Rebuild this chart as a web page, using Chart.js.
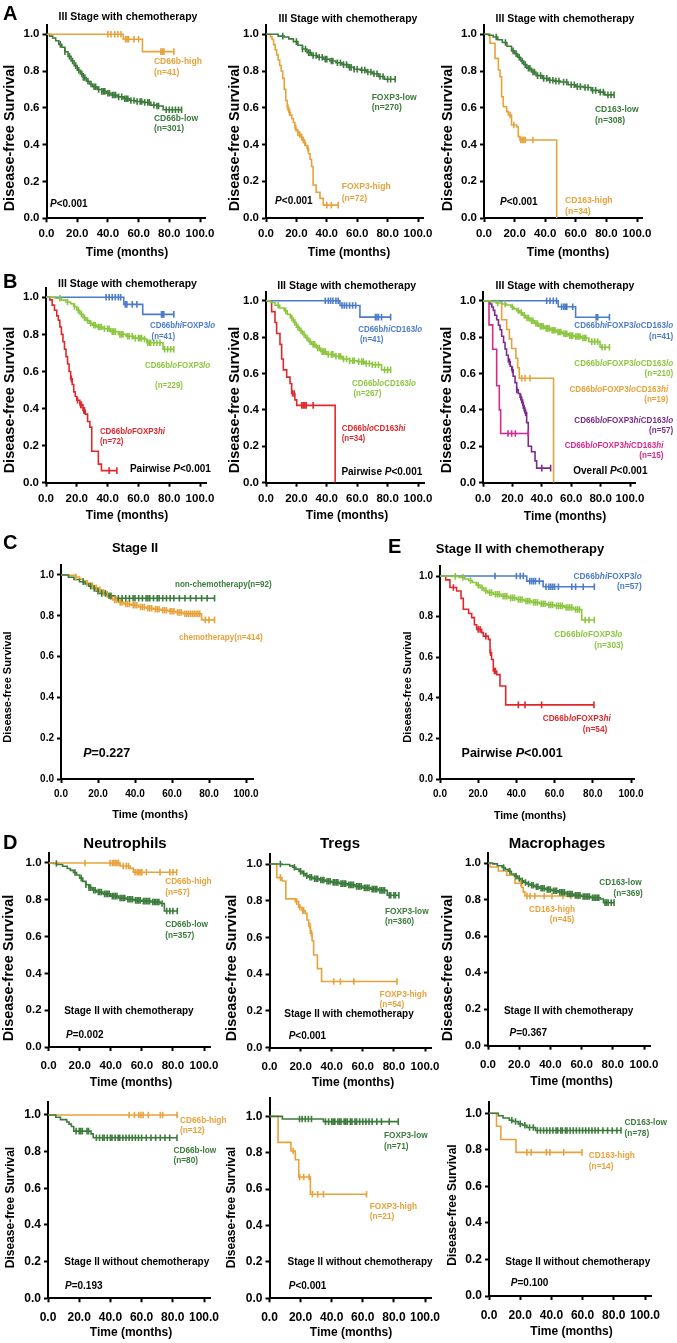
<!DOCTYPE html>
<html>
<head>
<meta charset="utf-8">
<title>Disease-free survival</title>
<script src="https://cdn.jsdelivr.net/npm/chart.js@4.4.1/dist/chart.umd.min.js"></script>
<style>
  body { margin: 0; background: #fff; }
  #page { position: relative; width: 677px; height: 1343px; overflow: hidden; background: #fff; }
  #page canvas { position: absolute; }
</style>
</head>
<body>
<div id="page"></div>
<script>
const ORANGE = '#E8A23A', DKGREEN = '#3B7B3B', LTGREEN = '#8CC63F', BLUE = '#4C7CC9',
      RED = '#E0282C', PURPLE = '#7B2B8B', MAGENTA = '#D8288C', BLACK = '#000';
const FAM = "'Liberation Sans', Arial, Helvetica, sans-serif";

// tick labels
const xTicks = [0, 20, 40, 60, 80, 100];
const yTicks = [0, 0.2, 0.4, 0.6, 0.8, 1.0];

// ---- A: III stage with chemotherapy ----
// t = event times (months), s = survival after the event, c = censored times
const a1HiT = [50, 62.5];
const a1HiS = [0.973, 0.906];
const a1HiC = [40, 42, 44.5, 46.5, 48.5, 51.5, 52.5, 53.5, 57, 60, 74.5, 75.5, 76.5, 83];
const a1LoT = [2, 4, 6, 8, 10, 12, 14, 16, 18, 20, 22, 24, 26, 28, 30, 33, 36, 39, 42, 46, 50, 54, 58, 63, 68, 72, 76];
const a1LoS = [0.99, 0.98, 0.965, 0.945, 0.93, 0.905, 0.88, 0.855, 0.83, 0.805, 0.785, 0.765, 0.745, 0.73, 0.715, 0.7, 0.69, 0.68, 0.67, 0.66, 0.65, 0.64, 0.635, 0.63, 0.615, 0.61, 0.59];
const a1LoC = [9, 12, 15, 17, 19, 21, 23, 24, 25, 27, 29, 31, 32, 34, 36, 37, 38, 40, 41, 43, 44, 45, 47, 49, 51, 52, 53, 55, 57, 59, 61, 62, 64, 66, 67, 70, 72, 73, 78, 80, 82, 84, 86, 88];

const a2LoT = [8, 12, 15, 18, 21, 24, 27, 30, 34, 38, 42, 46, 50, 54, 58, 62, 66, 70, 74, 78];
const a2LoS = [0.99, 0.985, 0.975, 0.96, 0.94, 0.92, 0.9, 0.885, 0.875, 0.865, 0.855, 0.845, 0.835, 0.82, 0.81, 0.805, 0.795, 0.785, 0.77, 0.755];
const a2LoC = [11, 20, 24, 26, 28, 29, 31, 33, 35, 37, 39, 40, 43, 44, 47, 49, 51, 53, 55, 56, 58, 60, 63, 65, 67, 69, 71, 73, 75, 77, 80, 82, 85];
const a2HiT = [3, 4, 5, 6, 7, 8, 9, 10, 11, 12, 13, 14, 15, 16, 17, 18, 19, 20, 21, 22, 23, 24, 25, 26, 27, 28, 29, 30, 31, 33, 35.5, 37.7];
const a2HiS = [0.986, 0.972, 0.944, 0.916, 0.888, 0.86, 0.83, 0.8, 0.76, 0.7, 0.64, 0.6, 0.575, 0.56, 0.54, 0.52, 0.49, 0.475, 0.465, 0.455, 0.44, 0.425, 0.41, 0.395, 0.38, 0.35, 0.32, 0.28, 0.18, 0.14, 0.107, 0.07];
const a2HiC = [14.5, 15.5, 19.5, 21, 22, 23.5, 24.5, 25.5, 27.5, 40, 43, 47.5];

const a3LoT = [3, 6, 9, 12, 15, 18, 20, 22, 24, 26, 28, 31, 34, 38, 42, 46, 50, 55, 60, 65, 70, 75, 79];
const a3LoS = [0.995, 0.985, 0.97, 0.955, 0.935, 0.91, 0.895, 0.875, 0.855, 0.835, 0.815, 0.795, 0.775, 0.76, 0.75, 0.745, 0.74, 0.725, 0.715, 0.71, 0.695, 0.685, 0.67];
const a3LoC = [8, 14, 19, 21, 23, 25, 27, 29, 30, 32, 33, 35, 37, 39, 41, 43, 45, 47, 49, 52, 54, 57, 59, 61, 63, 66, 68, 71, 73, 76, 78, 81, 83, 85];
const a3HiT = [3.9, 7.2, 9.4, 10.5, 11.5, 12.6, 14.8, 15.9, 18, 21.4, 22.4, 23.5, 47.5];
const a3HiS = [0.951, 0.869, 0.806, 0.769, 0.66, 0.606, 0.579, 0.561, 0.506, 0.497, 0.443, 0.425, 0];
const a3HiC = [17, 19.5, 24, 25, 26, 27, 32];

// ---- B: combined groups ----
const b1HiLoT = [50.5, 62.8];
const b1HiLoS = [0.962, 0.908];
const b1HiLoC = [39, 41, 43, 45, 47, 48.5, 51.5, 52.5, 56, 59, 75, 75.5, 76.5, 83];
const b1LoLoT = [6, 10, 13, 16, 18, 20, 22, 24, 26, 28, 30, 33, 37, 42, 47, 52, 57, 63, 65.5, 76];
const b1LoLoS = [0.995, 0.985, 0.975, 0.965, 0.95, 0.93, 0.91, 0.89, 0.875, 0.86, 0.85, 0.84, 0.83, 0.815, 0.8, 0.79, 0.78, 0.775, 0.755, 0.72];
const b1LoLoC = [9, 14, 18.5, 21, 23, 25, 27, 29, 31, 32, 34, 35, 36, 38, 40, 41, 43, 44, 45, 48, 49, 50, 53, 54, 56, 58, 60, 61, 62, 64, 66, 67, 68, 70, 72, 74, 77, 79, 81, 83];
const b1LoHiT = [2.5, 4, 5.5, 7, 8, 9, 10, 11, 12, 13, 14, 15, 16, 17, 18, 19, 20, 22, 24, 25.5, 27, 28.5, 29.7, 34, 36];
const b1LoHiS = [0.986, 0.958, 0.93, 0.9, 0.876, 0.84, 0.8, 0.76, 0.72, 0.68, 0.64, 0.6, 0.56, 0.53, 0.49, 0.465, 0.445, 0.42, 0.39, 0.37, 0.33, 0.3, 0.17, 0.1, 0.065];
const b1LoHiC = [16.5, 20.5, 22.5, 23, 24.5, 25, 41, 46];

const b2HiLoT = [48.7, 61.8];
const b2HiLoS = [0.974, 0.91];
const b2HiLoC = [39, 41, 42.5, 44, 46, 47.5, 50, 51.5, 53, 55, 57, 59, 72, 73, 74, 76, 82];
const b2LoLoT = [3, 6, 9, 12, 14, 16, 18, 20, 22, 24, 26, 28, 30, 33, 36, 40, 45, 50, 55, 60, 65, 70, 76];
const b2LoLoS = [0.99, 0.975, 0.96, 0.945, 0.925, 0.905, 0.88, 0.855, 0.835, 0.815, 0.795, 0.775, 0.76, 0.74, 0.72, 0.705, 0.695, 0.68, 0.67, 0.665, 0.655, 0.648, 0.62];
const b2LoLoC = [8, 13, 17, 19, 21, 23, 25, 27, 29, 31, 32, 34, 35, 37, 38, 39, 41, 43, 44, 46, 48, 49, 51, 53, 55, 57, 58, 61, 63, 64, 66, 68, 70, 72, 74, 78, 80, 82];
const b2LoHiT = [3.7, 5.9, 7, 9.2, 10.3, 11.4, 13.6, 15.8, 16.9, 19, 20.2, 45.5];
const b2LoHiS = [0.94, 0.88, 0.82, 0.76, 0.68, 0.62, 0.58, 0.545, 0.49, 0.455, 0.425, 0];
const b2LoHiC = [17.5, 18.5, 23.5, 24.5, 25.5, 26.5, 31];

const b3HLLT = [51.2, 63];
const b3HLLS = [0.967, 0.909];
const b3HLLC = [43.3, 45.6, 47.8, 50, 53.5, 55, 56, 57, 61, 77, 78, 86];
const b3LLLT = [5, 9, 13, 16, 19, 21, 23, 25, 27, 29, 32, 35, 38, 42, 46, 50, 54, 58, 62, 67, 72, 79.6];
const b3LLLS = [0.995, 0.987, 0.982, 0.976, 0.965, 0.955, 0.945, 0.935, 0.92, 0.905, 0.89, 0.875, 0.86, 0.848, 0.838, 0.828, 0.818, 0.808, 0.803, 0.795, 0.775, 0.744];
const b3LLLC = [10, 15, 20, 24, 26, 28, 30, 31, 33, 34, 36, 37, 39, 40, 41, 43, 44, 45, 47, 48, 49, 51, 52, 53, 55, 56, 57, 59, 60, 61, 63, 64, 65, 66, 68, 69, 70, 74, 76, 78, 81, 83, 86];
const b3LLHT = [12.7, 16.1, 17.9, 19.5, 22.4, 23.6, 24.7, 48];
const b3LLHS = [0.895, 0.842, 0.79, 0.737, 0.684, 0.632, 0.574, 0];
const b3LLHC = [26.3, 28.6, 32];
const b3LHLT = [4.8, 6, 7, 8, 9.3, 10.5, 11.6, 12.7, 14, 15, 16, 17.2, 18.5, 19.5, 20.5, 21.8, 22.9, 24, 25.2, 26.3, 27.4, 28.5, 29.7, 30.8, 33, 35.4, 36.5];
const b3LHLS = [0.982, 0.965, 0.947, 0.92, 0.895, 0.865, 0.84, 0.805, 0.77, 0.735, 0.7, 0.665, 0.64, 0.62, 0.585, 0.55, 0.51, 0.49, 0.47, 0.44, 0.41, 0.385, 0.33, 0.2, 0.17, 0.12, 0.08];
const b3LHLC = [18, 20, 23, 25.7, 27, 28, 29, 40, 46];
const b3LHHT = [4.1, 6.6, 9.3, 11.1, 12];
const b3LHHS = [0.867, 0.733, 0.533, 0.4, 0.27];
const b3LHHC = [17, 19.5, 22, 30.8];

// ---- C: stage II, chemotherapy vs none ----
const cNonT = [4, 7, 10, 13, 15, 17, 19, 21, 25, 29.2];
const cNonS = [0.989, 0.978, 0.967, 0.956, 0.945, 0.934, 0.92, 0.91, 0.898, 0.886];
const cNonC = [12, 16, 18, 20, 22, 24, 26, 27, 31, 33, 35, 37, 39, 40, 42, 44, 46, 47, 48, 50, 52, 53, 55, 57, 59, 61, 64, 67, 70, 73, 76, 79, 83];
const cChemoT = [4, 8, 10, 12, 14, 16, 18, 20, 22, 24, 26, 28, 31, 34, 38, 42, 46, 50, 54, 58, 62, 66, 76];
const cChemoS = [0.998, 0.99, 0.98, 0.97, 0.96, 0.948, 0.937, 0.928, 0.915, 0.905, 0.892, 0.878, 0.866, 0.858, 0.852, 0.843, 0.837, 0.832, 0.827, 0.822, 0.817, 0.81, 0.78];
const cChemoC = [8, 14, 17, 19, 21, 23, 25, 27, 29, 30, 32, 33, 35, 36, 37, 39, 40, 41, 43, 44, 45, 47, 48, 49, 51, 52, 53, 55, 56, 57, 59, 60, 61, 63, 64, 65, 67, 68, 69, 70, 71, 72, 73, 74, 75, 78, 80, 83];

// ---- E: stage II with chemotherapy, combined ----
const eHiLoT = [45.4, 54];
const eHiLoS = [0.975, 0.947];
const eHiLoC = [28.8, 40, 42, 43.6, 47, 48, 49, 50, 52, 55.5, 57, 58, 59, 60, 62, 69, 71, 75, 80.8];
const eLoLoT = [6, 10, 13, 15, 17, 19, 21, 23, 25, 28, 32, 36, 40, 44, 48, 52, 56, 60, 65, 70, 74.2];
const eLoLoS = [0.998, 0.993, 0.985, 0.978, 0.968, 0.955, 0.942, 0.928, 0.918, 0.91, 0.9, 0.892, 0.884, 0.877, 0.87, 0.863, 0.858, 0.853, 0.845, 0.835, 0.783];
const eLoLoC = [8, 12, 16, 20, 22, 24, 26, 27, 29, 30, 31, 33, 34, 35, 37, 38, 39, 41, 42, 43, 45, 46, 47, 49, 50, 51, 53, 54, 55, 57, 58, 59, 61, 62, 63, 64, 66, 67, 68, 69, 71, 72, 73, 76, 78, 80.8];
const eLoHiT = [3, 5.2, 8.7, 11, 12.2, 15, 16.6, 18, 19.2, 21.8, 22.7, 25.3, 26.2, 27, 27.9, 29.7, 31.4, 34.4];
const eLoHiS = [0.981, 0.943, 0.926, 0.89, 0.836, 0.815, 0.795, 0.76, 0.737, 0.721, 0.704, 0.688, 0.622, 0.589, 0.532, 0.514, 0.458, 0.365];
const eLoHiC = [7, 20, 21, 24, 26.5, 28.5, 29, 41, 44.5, 53.2, 80.6];

// ---- D: stage II by cell type ----
const d1HiT = [46, 52.4, 54.5];
const d1HiS = [0.984, 0.971, 0.95];
const d1HiC = [23.4, 39.5, 41, 42, 43, 44, 45, 48, 50, 51.4, 55.6, 57, 58, 59, 60, 63, 71.7, 78, 80, 82.4];
const d1LoT = [3, 6, 9, 12, 14, 16, 18, 20, 22, 24, 26, 28, 31, 35, 40, 45, 50, 55, 60, 66, 72, 74.5];
const d1LoS = [0.997, 0.992, 0.982, 0.97, 0.96, 0.948, 0.935, 0.918, 0.9, 0.882, 0.866, 0.852, 0.842, 0.832, 0.82, 0.81, 0.803, 0.797, 0.793, 0.788, 0.78, 0.739];
const d1LoC = [5, 17, 21, 24, 26, 27, 29, 30, 32, 33, 34, 36, 37, 38, 39, 41, 42, 43, 44, 46, 47, 48, 49, 51, 52, 53, 54, 56, 57, 58, 59, 61, 62, 63, 64, 65, 67, 68, 69, 70, 71, 73, 76, 78, 80, 82.8];

const d2LoT = [8, 13, 15, 17, 19, 21, 23, 25, 28, 32, 36, 40, 45, 50, 55, 60, 65, 70, 75.7];
const d2LoS = [0.997, 0.99, 0.982, 0.972, 0.96, 0.948, 0.936, 0.928, 0.92, 0.913, 0.906, 0.9, 0.893, 0.886, 0.878, 0.87, 0.863, 0.856, 0.83];
const d2LoC = [7, 16, 20, 22, 24, 26, 27, 29, 30, 31, 33, 34, 35, 37, 38, 39, 41, 42, 43, 44, 46, 47, 48, 49, 51, 52, 53, 54, 56, 57, 58, 59, 61, 62, 63, 64, 66, 67, 68, 69, 71, 72, 73, 74, 77, 78, 80, 81, 83.2];
const d2HiT = [4.7, 8, 10.5, 16.6, 18.7, 20.9, 23, 24.1, 25.2, 26.3, 27.4, 28.4, 30.8, 33.5];
const d2HiS = [0.926, 0.907, 0.81, 0.795, 0.764, 0.745, 0.731, 0.695, 0.662, 0.622, 0.582, 0.504, 0.43, 0.36];
const d2HiC = [7, 17.5, 19.5, 21.5, 22, 26, 27, 41.3, 45.6, 54.2, 82];

const d3LoT = [3, 6, 9, 11, 13, 15, 17, 19, 21, 23, 25, 27, 30, 33, 37, 41, 45, 50, 55, 60, 66, 72, 74];
const d3LoS = [0.995, 0.985, 0.975, 0.965, 0.955, 0.94, 0.928, 0.915, 0.903, 0.893, 0.885, 0.878, 0.87, 0.862, 0.855, 0.848, 0.84, 0.83, 0.823, 0.817, 0.81, 0.803, 0.783];
const d3LoC = [10, 14, 18, 20, 22, 24, 26, 28, 29, 31, 32, 34, 35, 36, 38, 39, 40, 42, 43, 44, 46, 47, 48, 49, 51, 52, 53, 54, 56, 57, 58, 59, 61, 62, 63, 64, 65, 67, 68, 69, 70, 71, 75, 76, 77, 79, 80.8];
const d3HiT = [1.3, 6.6, 12, 17.3, 21.6, 22.6, 23.7];
const d3HiS = [0.978, 0.956, 0.933, 0.889, 0.866, 0.842, 0.819];
const d3HiC = [21, 25, 27, 30, 36, 41, 48, 53, 57.9];

const d4HiT = [];
const d4HiS = [];
const d4HiC = [52, 55.4, 58.2, 59.6, 61, 64.3, 72, 73.5, 82.7];
const d4LoT = [5, 8, 12, 13.5, 15, 16.5, 27.6, 29];
const d4LoS = [0.9875, 0.975, 0.962, 0.95, 0.937, 0.912, 0.897, 0.876];
const d4LoC = [18, 20, 21, 22, 25, 26, 31, 33, 35, 36, 38, 40, 41, 43, 45, 46, 48, 50, 52, 54, 56, 58, 60, 63, 66, 69, 72, 75, 78, 82.7];

const d5LoT = [8.3, 34.7];
const d5LoS = [0.986, 0.971];
const d5LoC = [19.3, 21, 23, 25, 27, 36, 38, 40, 41, 42, 44, 45, 46, 48, 49, 50, 52, 53, 55, 56, 58, 60, 62, 64, 66, 69, 72, 77, 82.8];
const d5HiT = [5.5, 13.8, 16.6, 18.8, 26.3];
const d5HiS = [0.857, 0.81, 0.762, 0.667, 0.572];
const d5HiC = [15.2, 19.4, 22, 25.5, 27.6, 31, 34.7, 62.4];

const d6LoT = [6, 9, 13, 15.5, 18.7, 21.5, 24.3, 29.8];
const d6LoS = [0.987, 0.974, 0.962, 0.955, 0.942, 0.935, 0.922, 0.906];
const d6LoC = [14.6, 17, 20, 23, 26, 28.4, 31, 33, 35, 37, 39, 41, 43, 44, 46, 47, 49, 50, 52, 54, 56, 58, 60, 62, 64, 66, 68, 70, 73, 76, 79, 82, 84.6];
const d6HiT = [4.8, 7.6, 17.3];
const d6HiS = [0.929, 0.857, 0.786];
const d6HiC = [24.3, 27, 36.8, 39, 47.9, 59.6];

const STAGE3 = 'III Stage with chemotherapy';
const S2W = 'Stage II with chemotherapy', S2WO = 'Stage II without chemotherapy';

// panel layout: rect = canvas [left, top, right, bottom]; g = pixel of x=0, x=100, y=1, y=0
const panels = [
  { rect: [0, 0, 230, 262], g: [46.5, 200, 34.3, 218.3], xmax: 103.5, ymax: 1.05,
    f: { tick: 11.5, yt: 14.5, xt: 12, lab: 9, sq: 0.95, padX: 5 },
    letter: ['A', 3, 14], title: [STAGE3, 128, 17.3, 10.5], yt: [10, 138], xt: [127, 252.7],
    curves: [[a1HiT, a1HiS, a1HiC, ORANGE], [a1LoT, a1LoS, a1LoC, DKGREEN]],
    labels: [['CD66b-high', 70, 0.85, ORANGE], ['(n=41)', 70, 0.795, ORANGE],
             ['CD66b-low', 70, 0.545, DKGREEN], ['(n=301)', 70, 0.49, DKGREEN],
             ['*P*<0.001', 2.3, 0.078, BLACK, 'left', 10]] },
  { rect: [222, 0, 450, 262], g: [266, 418, 34.3, 218], xmax: 103.5, ymax: 1.05,
    f: { tick: 11.5, yt: 14.5, xt: 12, lab: 9, sq: 0.95, padX: 5 },
    title: [STAGE3, 348, 19.5, 10.5], yt: [235, 138], xt: [349, 252.7],
    curves: [[a2LoT, a2LoS, a2LoC, DKGREEN], [a2HiT, a2HiS, a2HiC, ORANGE]],
    labels: [['FOXP3-low', 69.5, 0.657, DKGREEN], ['(n=270)', 69.5, 0.603, DKGREEN],
             ['FOXP3-high', 49.8, 0.17, ORANGE], ['(n=72)', 49.8, 0.104, ORANGE],
             ['*P*<0.001', 6, 0.089, BLACK, 'left', 10]] },
  { rect: [440, 0, 677, 262], g: [484, 637, 34.3, 218], xmax: 103.5, ymax: 1.05,
    f: { tick: 11.5, yt: 14.5, xt: 12, lab: 9, sq: 0.95, padX: 5 },
    title: [STAGE3, 565, 19.5, 10.5], yt: [448, 138], xt: [568, 252.7],
    curves: [[a3LoT, a3LoS, a3LoC, DKGREEN], [a3HiT, a3HiS, a3HiC, ORANGE]],
    labels: [['CD163-low', 72.5, 0.588, DKGREEN], ['(n=308)', 72.5, 0.53, DKGREEN],
             ['CD163-high', 53, 0.093, ORANGE], ['(n=34)', 53, 0.035, ORANGE],
             ['*P*<0.001', 10.5, 0.085, BLACK, 'left', 10]] },

  { rect: [0, 266, 230, 525], g: [46, 200, 297.3, 482.7], xmax: 104.5, ymax: 1.05,
    f: { tick: 11.5, yt: 14.5, xt: 12, lab: 9, sq: 0.88, padX: 5 },
    letter: ['B', 3, 282], title: [STAGE3, 127.5, 284, 10.5], yt: [10, 400], xt: [127, 516],
    curves: [[b1LoLoT, b1LoLoS, b1LoLoC, LTGREEN], [b1HiLoT, b1HiLoS, b1HiLoC, BLUE], [b1LoHiT, b1LoHiS, b1LoHiC, RED]],
    labels: [['CD66b*hi*FOXP3*lo*', 67.5, 0.849, BLUE], ['(n=41)', 68.5, 0.789, BLUE],
             ['CD66b*lo*FOXP3*lo*', 64.3, 0.632, LTGREEN], ['(n=229)', 70.8, 0.524, LTGREEN],
             ['CD66b*lo*FOXP3*hi*', 35, 0.276, RED], ['(n=72)', 35, 0.222, RED],
             ['Pairwise *P*<0.001', 54.5, 0.074, BLACK, 'left', 10]] },
  { rect: [222, 266, 450, 525], g: [266, 418, 300.7, 482.7], xmax: 104.5, ymax: 1.05,
    f: { tick: 11.5, yt: 14.5, xt: 12, lab: 9, sq: 0.88, padX: 5 },
    title: [STAGE3, 346.7, 286, 10.5], yt: [235, 400], xt: [347, 516],
    curves: [[b2LoLoT, b2LoLoS, b2LoLoC, LTGREEN], [b2HiLoT, b2HiLoS, b2HiLoC, BLUE], [b2LoHiT, b2LoHiS, b2LoHiC, RED]],
    labels: [['CD66b*hi*CD163*lo*', 60.7, 0.843, BLUE], ['(n=41)', 61.8, 0.784, BLUE],
             ['CD66b*lo*CD163*lo*', 56.6, 0.546, LTGREEN], ['(n=267)', 57.5, 0.491, LTGREEN],
             ['CD66b*lo*CD163*hi*', 49.8, 0.299, RED], ['(n=34)', 49.8, 0.244, RED],
             ['Pairwise *P*<0.001', 49.6, 0.06, BLACK, 'left', 10]] },
  { rect: [440, 266, 677, 525], g: [483, 630, 300.7, 482.7], xmax: 104, ymax: 1.05,
    f: { tick: 11.5, yt: 14.5, xt: 12, lab: 8.5, sq: 0.95, padX: 5 },
    title: [STAGE3, 565, 286, 10.5], yt: [447, 400], xt: [565, 517],
    curves: [[b3LLLT, b3LLLS, b3LLLC, LTGREEN], [b3HLLT, b3HLLS, b3HLLC, BLUE], [b3LLHT, b3LLHS, b3LLHC, ORANGE],
             [b3LHLT, b3LHLS, b3LHLC, PURPLE], [b3LHHT, b3LHHS, b3LHHC, MAGENTA]],
    labels: [['CD66b*hi*FOXP3*lo*CD163*lo*', 129.3, 0.861, BLUE, 'right'], ['(n=41)', 129.3, 0.803, BLUE, 'right'],
             ['CD66b*lo*FOXP3*lo*CD163*lo*', 129.3, 0.653, LTGREEN, 'right'], ['(n=210)', 129.3, 0.598, LTGREEN, 'right'],
             ['CD66b*lo*FOXP3*lo*CD163*hi*', 126, 0.51, ORANGE, 'right'], ['(n=19)', 126, 0.455, ORANGE, 'right'],
             ['CD66b*lo*FOXP3*hi*CD163*lo*', 129.3, 0.34, PURPLE, 'right'], ['(n=57)', 129.3, 0.287, PURPLE, 'right'],
             ['CD66b*lo*FOXP3*hi*CD163*hi*', 122.7, 0.203, MAGENTA, 'right'], ['(n=15)', 122.7, 0.148, MAGENTA, 'right'],
             ['Overall *P*<0.001', 61.4, 0.062, BLACK, 'left', 10]] },

  { rect: [0, 528, 340, 826], g: [61, 246, 575, 779], xmax: 104.3, ymax: 1.05,
    f: { tick: 10, yt: 11, xt: 11, lab: 8.5, sq: 0.95, padX: 5 },
    letter: ['C', 3, 543], title: ['Stage II', 135, 548, 13], yt: [8, 687], xt: [150, 815],
    curves: [[cNonT, cNonS, cNonC, DKGREEN], [cChemoT, cChemoS, cChemoC, ORANGE]],
    labels: [['non-chemotherapy(n=92)', 61.6, 0.951, DKGREEN], ['chemotherapy(n=414)', 63.8, 0.695, ORANGE],
             ['*P*=0.227', 12, 0.126, BLACK, 'left', 12.5]] },
  { rect: [340, 528, 677, 826], g: [440, 631, 576, 779], xmax: 101.6, ymax: 1.05,
    f: { tick: 10, yt: 11, xt: 10.5, lab: 9, sq: 0.92, padX: 5 },
    letter: ['E', 388, 547], title: [S2W, 520, 549, 13], yt: [408, 687], xt: [530, 816],
    curves: [[eLoLoT, eLoLoS, eLoLoC, LTGREEN], [eHiLoT, eHiLoS, eHiLoC, BLUE], [eLoHiT, eLoHiS, eLoHiC, RED]],
    labels: [['CD66b*hi*FOXP3*lo*', 105.6, 0.997, BLUE, 'right'], ['(n=57)', 105.6, 0.947, BLUE, 'right'],
             ['CD66b*lo*FOXP3*lo*', 95.5, 0.713, LTGREEN, 'right'], ['(n=303)', 96, 0.66, LTGREEN, 'right'],
             ['CD66b*lo*FOXP3*hi*', 89.4, 0.299, RED, 'right'], ['(n=54)', 87.6, 0.245, RED, 'right'],
             ['Pairwise *P*<0.001', 11.3, 0.123, BLACK, 'left', 12.5]] },

  { rect: [0, 826, 232, 1092], g: [48.6, 204, 863, 1047], xmax: 104, ymax: 1.055,
    f: { tick: 11.5, yt: 14.5, xt: 12, lab: 9, sq: 0.92, padX: 8 },
    letter: ['D', 3, 843], title: ['Neutrophils', 125, 844, 15], yt: [9, 968], xt: [131, 1083],
    curves: [[d1HiT, d1HiS, d1HiC, ORANGE], [d1LoT, d1LoS, d1LoC, DKGREEN]],
    labels: [['CD66b-high', 75, 0.898, ORANGE], ['(n=57)', 75, 0.84, ORANGE],
             ['CD66b-low', 75, 0.663, DKGREEN], ['(n=357)', 75, 0.605, DKGREEN],
             [S2W, 10, 0.192, BLACK, 'left', 10], ['*P*=0.002', 11.2, 0.065, BLACK, 'left', 10]] },
  { rect: [222, 826, 452, 1092], g: [269.5, 425, 864, 1047.5], xmax: 104, ymax: 1.055,
    f: { tick: 11.5, yt: 14.5, xt: 12, lab: 9, sq: 0.92, padX: 8 },
    title: ['Tregs', 340, 844, 15], yt: [232, 968], xt: [353, 1083],
    curves: [[d2LoT, d2LoS, d2LoC, DKGREEN], [d2HiT, d2HiS, d2HiC, ORANGE]],
    labels: [['FOXP3-low', 74.2, 0.74, DKGREEN], ['(n=360)', 74.2, 0.686, DKGREEN],
             ['FOXP3-high', 70.8, 0.29, ORANGE], ['(n=54)', 70.8, 0.235, ORANGE],
             [S2W, 9.5, 0.183, BLACK, 'left', 10], ['*P*<0.001', 12.3, 0.06, BLACK, 'left', 10]] },
  { rect: [440, 826, 677, 1092], g: [488, 644, 863, 1045.7], xmax: 104, ymax: 1.055,
    f: { tick: 11.5, yt: 14.5, xt: 12, lab: 9, sq: 0.92, padX: 8 },
    title: ['Macrophages', 557, 844, 15], yt: [448, 968], xt: [571.5, 1082],
    curves: [[d3LoT, d3LoS, d3LoC, DKGREEN], [d3HiT, d3HiS, d3HiC, ORANGE]],
    labels: [['CD163-low', 98.5, 0.892, DKGREEN, 'right'], ['(n=369)', 99.2, 0.834, DKGREEN, 'right'],
             ['CD163-high', 55.8, 0.747, ORANGE, 'right'], ['(n=45)', 55.3, 0.688, ORANGE, 'right'],
             [S2W, 10.2, 0.186, BLACK, 'left', 10], ['*P*=0.367', 13.8, 0.07, BLACK, 'left', 10]] },

  { rect: [0, 1088, 232, 1343], g: [48, 204, 1115, 1298.3], xmax: 104, ymax: 1.07,
    f: { tick: 12, yt: 12, xt: 12, lab: 9, sq: 0.92, padX: 8 },
    yt: [11, 1207.5], xt: [131, 1333],
    curves: [[d4LoT, d4LoS, d4LoC, DKGREEN], [d4HiT, d4HiS, d4HiC, ORANGE]],
    labels: [['CD66b-high', 84.6, 0.969, ORANGE], ['(n=12)', 84.6, 0.914, ORANGE],
             ['CD66b-low', 80.4, 0.805, DKGREEN], ['(n=80)', 80.4, 0.749, DKGREEN],
             [S2WO, 10.4, 0.198, BLACK, 'left', 10], ['*P*=0.193', 10.9, 0.066, BLACK, 'left', 10]] },
  { rect: [222, 1088, 452, 1343], g: [269.5, 425, 1116, 1298.3], xmax: 104, ymax: 1.1,
    f: { tick: 12, yt: 12, xt: 12, lab: 9, sq: 0.92, padX: 8 },
    yt: [232, 1207.5], xt: [351, 1333],
    curves: [[d5LoT, d5LoS, d5LoC, DKGREEN], [d5HiT, d5HiS, d5HiC, ORANGE]],
    labels: [['FOXP3-low', 73.6, 0.894, DKGREEN], ['(n=71)', 73.6, 0.835, DKGREEN],
             ['FOXP3-high', 64.4, 0.505, ORANGE], ['(n=21)', 64.4, 0.451, ORANGE],
             [S2WO, 11.6, 0.196, BLACK, 'left', 10], ['*P*<0.001', 12.4, 0.067, BLACK, 'left', 10]] },
  { rect: [440, 1088, 677, 1343], g: [489, 645, 1113.3, 1296], xmax: 104, ymax: 1.06,
    f: { tick: 12, yt: 12, xt: 12, lab: 9, sq: 0.92, padX: 8 },
    yt: [453, 1205], xt: [571.5, 1331.7],
    curves: [[d6LoT, d6LoS, d6LoC, DKGREEN], [d6HiT, d6HiS, d6HiC, ORANGE]],
    labels: [['CD163-low', 86.9, 0.949, DKGREEN], ['(n=78)', 86.9, 0.891, DKGREEN],
             ['CD163-high', 64, 0.768, ORANGE], ['(n=14)', 64, 0.711, ORANGE],
             [S2WO, 10.4, 0.184, BLACK, 'left', 10], ['*P*=0.100', 14, 0.07, BLACK, 'left', 10]] }
];

// survival level at time x from the step data
function survAt(t, s, x) {
  let v = 1;
  for (let i = 0; i < t.length; i++) if (t[i] <= x) v = s[i];
  return v;
}

function curveSets(cv) {
  const [t, s, c, col] = cv;
  const end = Math.max(t.length ? t[t.length - 1] : 0, c.length ? c[c.length - 1] : 0);
  const pts = [{ x: 0, y: 1 }];
  t.forEach((tt, i) => pts.push({ x: tt, y: s[i] }));
  pts.push({ x: end, y: s.length ? s[s.length - 1] : 1 });
  const cens = c.map(x => ({ x: x, y: survAt(t, s, x) }));
  return [
    { data: pts, showLine: true, stepped: true, borderColor: col, borderWidth: 1.6,
      pointRadius: 0, fill: false, order: 2 },
    { data: cens, showLine: false, pointStyle: 'line', pointRotation: 90, pointRadius: 3.3,
      pointBorderColor: col, pointBackgroundColor: col, pointBorderWidth: 1.6, order: 1 }
  ];
}

// text with *italic* parts, bold
function rich(ctx, str, x, y, size, color, align, sq) {
  const parts = str.split('*');
  const font = i => (i % 2 ? 'italic ' : '') + 'bold ' + size + 'px ' + FAM;
  let w = 0;
  parts.forEach((p, i) => { ctx.font = font(i); w += ctx.measureText(p).width; });
  ctx.save();
  ctx.translate(x, y);
  ctx.scale(sq || 1, 1);
  ctx.fillStyle = color;
  ctx.textBaseline = 'middle';
  ctx.textAlign = 'left';
  let cx = align === 'right' ? -w : (align === 'center' ? -w / 2 : 0);
  parts.forEach((p, i) => { ctx.font = font(i); ctx.fillText(p, cx, 0); cx += ctx.measureText(p).width; });
  ctx.restore();
}

function makeDecor(p) {
  return {
    id: 'decor',
    afterDraw(chart) {
      const ctx = chart.ctx, L = p.rect[0], T = p.rect[1];
      const xs = chart.scales.x, ys = chart.scales.y;
      if (p.letter) rich(ctx, p.letter[0], p.letter[1] - L, p.letter[2] - T, 20, BLACK, 'left');
      if (p.title) rich(ctx, p.title[0], p.title[1] - L, p.title[2] - T, p.title[3], BLACK, 'center');
      rich(ctx, 'Time (months)', p.xt[0] - L, p.xt[1] - T, p.f.xt, BLACK, 'center');
      ctx.save();
      ctx.translate(p.yt[0] - L, p.yt[1] - T);
      ctx.rotate(-Math.PI / 2);
      rich(ctx, 'Disease-free Survival', 0, 0, p.f.yt, BLACK, 'center');
      ctx.restore();
      p.labels.forEach(l => {
        const size = l[5] || p.f.lab;
        const sq = l[5] ? 1 : p.f.sq;
        rich(ctx, l[0], xs.getPixelForValue(l[1]), ys.getPixelForValue(l[2]), size, l[3], l[4] || 'left', sq);
      });
    }
  };
}

Chart.defaults.font.family = FAM;
Chart.defaults.color = BLACK;

const page = document.getElementById('page');
panels.forEach(p => {
  const [L, T, R, B] = p.rect;
  const [x0, x100, y1, y0] = p.g;
  const left = x0, right = x0 + (x100 - x0) * p.xmax / 100;
  const bottom = y0, top = y0 - (y0 - y1) * p.ymax;
  const yW = left - L, xH = B - bottom;

  const cv = document.createElement('canvas');
  cv.width = R - L; cv.height = B - T;
  cv.style.left = L + 'px'; cv.style.top = T + 'px';
  cv.style.width = (R - L) + 'px'; cv.style.height = (B - T) + 'px';
  page.appendChild(cv);

  const datasets = [];
  p.curves.forEach(c => datasets.push(...curveSets(c)));

  const axisGrid = { display: true, drawOnChartArea: false, drawTicks: true, tickLength: 4, tickWidth: 2, tickColor: BLACK };
  const axisBorder = { display: true, color: BLACK, width: 2 };

  new Chart(cv, {
    type: 'scatter',
    data: { datasets: datasets },
    options: {
      responsive: false,
      animation: false,
      events: [],
      layout: { padding: { left: 0, top: top - T, right: R - right, bottom: 0 } },
      plugins: { legend: { display: false }, tooltip: { enabled: false } },
      scales: {
        x: {
          type: 'linear', min: 0, max: p.xmax,
          afterFit: s => { s.height = xH; },
          afterBuildTicks: s => { s.ticks = xTicks.map(v => ({ value: v })); },
          ticks: { callback: v => v.toFixed(1), color: BLACK, padding: p.f.padX, maxRotation: 0, autoSkip: false,
                   font: { size: p.f.tick, weight: 'bold' } },
          grid: axisGrid, border: axisBorder
        },
        y: {
          type: 'linear', min: 0, max: p.ymax,
          afterFit: s => { s.width = yW; },
          afterBuildTicks: s => { s.ticks = yTicks.map(v => ({ value: v })); },
          ticks: { callback: v => v.toFixed(1), color: BLACK, padding: 3, autoSkip: false,
                   font: { size: p.f.tick, weight: 'bold' } },
          grid: axisGrid, border: axisBorder
        }
      }
    },
    plugins: [makeDecor(p)]
  });
});
</script>
</body>
</html>
